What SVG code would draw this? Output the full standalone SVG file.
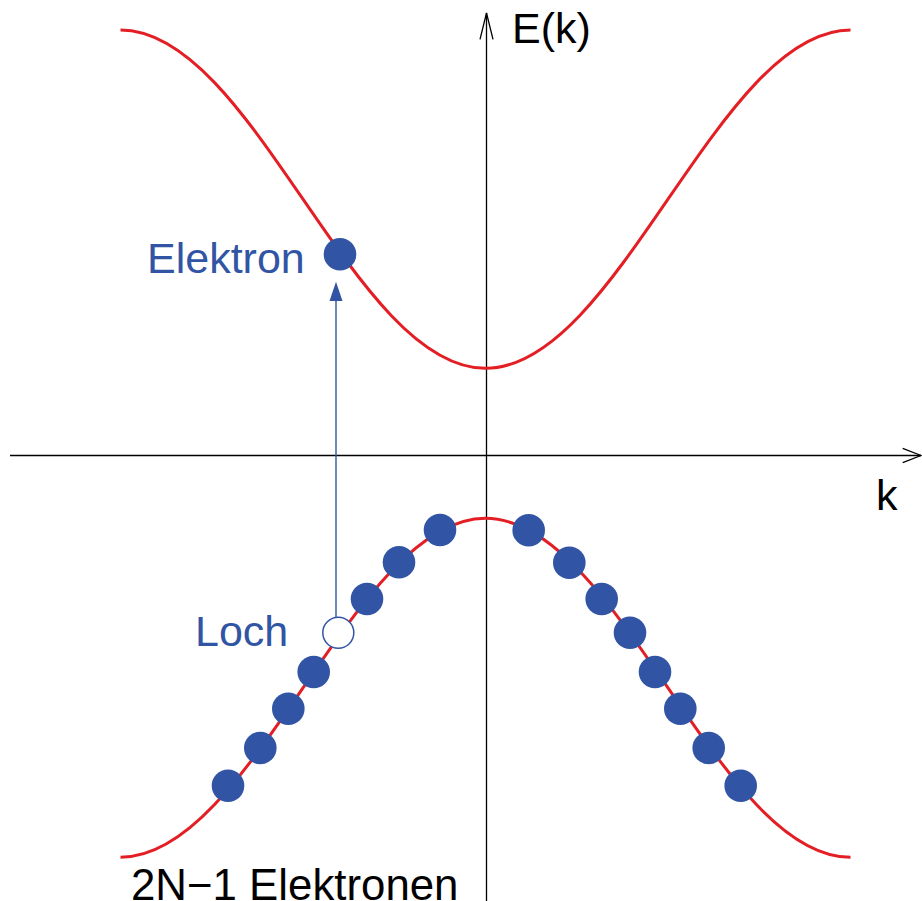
<svg xmlns="http://www.w3.org/2000/svg" width="922" height="901" viewBox="0 0 922 901">
<style>
.axis{stroke:#000;stroke-width:1.3;fill:none}
.band{stroke:#e31e24;stroke-width:3;fill:none}
.e{fill:#3155a4}
.lbl{font-family:"Liberation Sans",Arial,sans-serif;font-size:43px}
.blue{fill:#3155a4}
</style>
<rect width="922" height="901" fill="#fff"/>
<g id="axes">
<line class="axis" x1="486.5" y1="901" x2="486.5" y2="13"/>
<polyline class="axis" points="480,39.3 486.5,13 493,39.3"/>
<line class="axis" x1="10" y1="455.5" x2="921" y2="455.5"/>
<polyline class="axis" points="902.7,448.3 921,455.5 902.7,462.7"/>
<text class="lbl" x="512" y="43">E(k)</text>
<text class="lbl" x="876" y="510">k</text>
</g>
<g id="conduction-band">
<path class="band" d="M120.5,30 C253.1,30 352.9,368.3 485.5,368.3 C618.1,368.3 717.9,30 850.5,30"/>
</g>
<g id="valence-band">
<path class="band" d="M120.5,857.3 C253.1,857.3 352.9,518.3 485.5,518.3 C618.1,518.3 717.9,857.3 850.5,857.3"/>
</g>
<g id="connectors">
<line x1="336" y1="617" x2="336" y2="300" stroke="#3155a4" stroke-width="1.4"/>
<polygon points="336,281.7 329.5,301 342.5,301" fill="#3155a4"/>
</g>
<g id="elektron">
<circle class="e" cx="340" cy="254.3" r="16.3"/>
<text class="lbl blue" x="147" y="272.5">Elektron</text>
</g>
<g id="loch">
<circle cx="338.3" cy="632.7" r="15.5" fill="#fff" stroke="#3155a4" stroke-width="1.5"/>
<text class="lbl blue" x="195" y="645.7">Loch</text>
</g>
<g id="valence-electrons">
<circle class="e" cx="440" cy="530" r="16.3"/>
<circle class="e" cx="399" cy="562.3" r="16.3"/>
<circle class="e" cx="367" cy="599" r="16.3"/>
<circle class="e" cx="313.7" cy="672" r="16.3"/>
<circle class="e" cx="288.3" cy="708.7" r="16.3"/>
<circle class="e" cx="260.3" cy="748" r="16.3"/>
<circle class="e" cx="228" cy="785.7" r="16.3"/>
<circle class="e" cx="528.7" cy="530.3" r="16.3"/>
<circle class="e" cx="569.3" cy="562.7" r="16.3"/>
<circle class="e" cx="601.7" cy="599" r="16.3"/>
<circle class="e" cx="630" cy="632.7" r="16.3"/>
<circle class="e" cx="655" cy="672" r="16.3"/>
<circle class="e" cx="680.3" cy="708.7" r="16.3"/>
<circle class="e" cx="708.7" cy="748" r="16.3"/>
<circle class="e" cx="740.7" cy="785.7" r="16.3"/>
</g>
<g id="caption">
<text class="lbl" x="131" y="899.5" style="font-size:43.8px">2N−1 Elektronen</text>
</g>
</svg>
